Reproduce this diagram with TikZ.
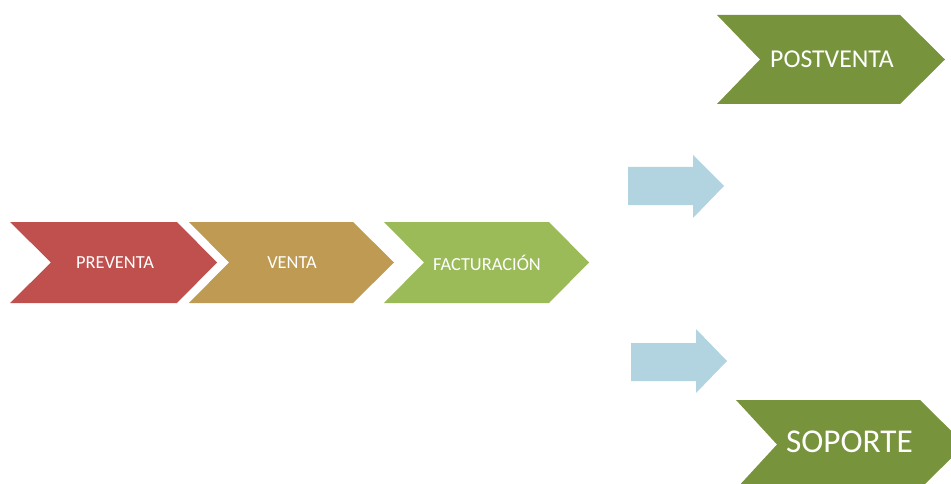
\documentclass[tikz,border=0pt]{standalone}
\usepackage{fontspec}
\setmainfont{Carlito}
\definecolor{cred}{HTML}{C0504D}
\definecolor{cgold}{HTML}{BE9A53}
\definecolor{clgreen}{HTML}{9BBB59}
\definecolor{cdgreen}{HTML}{77933C}
\definecolor{cblue}{HTML}{B1D4E0}
\begin{document}
\begin{tikzpicture}[x=1pt,y=-1pt,
  lbl/.style={text=white,inner sep=0pt,font=\fontsize{18.4}{20}\selectfont},
  lblbig/.style={text=white,inner sep=0pt,font=\fontsize{25.7}{28}\selectfont},
  lblhuge/.style={text=white,inner sep=0pt,font=\fontsize{33.3}{36}\selectfont}]
\path[use as bounding box] (0,0) rectangle (951,484);
\begin{scope}
\clip (0,0) rectangle (951,484);
% main chevrons
\fill[cred] (10,222) -- (177,222) -- (217,262.5) -- (177,303) -- (10,303) -- (51,262.5) -- cycle;
\fill[cgold] (189,222) -- (353,222) -- (394,262.5) -- (353,303) -- (189,303) -- (229,262.5) -- cycle;
\fill[clgreen] (384,222) -- (549,222) -- (589,262.5) -- (549,303) -- (384,303) -- (424,262.5) -- cycle;
% right chevrons
\fill[cdgreen] (717,15) -- (900,15) -- (945,59.5) -- (900,104) -- (717,104) -- (760,59.5) -- cycle;
\fill[cdgreen] (736,400) -- (920,400) -- (965,444.5) -- (920,489) -- (736,489) -- (777,444.5) -- cycle;
% blue arrows
\fill[cblue] (628,167) -- (693,167) -- (693,155) -- (724,186) -- (693,218) -- (693,205) -- (628,205) -- cycle;
\fill[cblue] (631,343) -- (696,343) -- (696,329) -- (727,361) -- (696,393) -- (696,381) -- (631,381) -- cycle;
\end{scope}
\node[lbl] (preventa) at (115,262.5) {PREVENTA};
\node[lbl] (venta) at (292,262.5) {VENTA};
\node[lbl] (facturacion) at (487,262.5) {FACTURACIÓN};
\node[lblbig] (postventa) at (832,59.5) {POSTVENTA};
\node[lblhuge] (soporte) at (849.5,442) {SOPORTE};
\end{tikzpicture}
\end{document}
